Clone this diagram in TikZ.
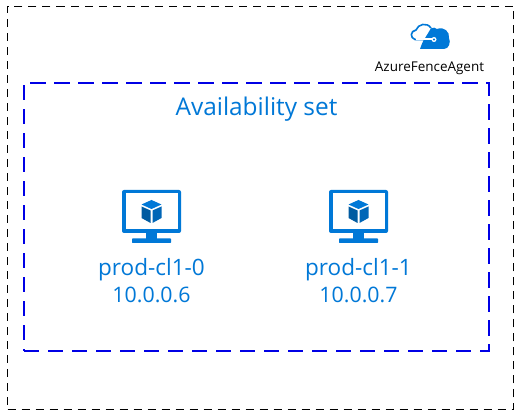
\documentclass[tikz,border=0pt]{standalone}
\usepackage{fontspec}
\setmainfont{Open Sans}
\definecolor{azure}{HTML}{0078D7}
\definecolor{azuredark}{HTML}{005BA1}
\tikzset{
  outerbox/.style={draw=black,line width=0.75pt,dash pattern=on 6pt off 4.5pt},
  setbox/.style={draw=blue!90!black,line width=1.6pt,dash pattern=on 11.5pt off 6.5pt},
  vmlabel/.style={text=azure,align=center,anchor=north,inner sep=0pt},
  settitle/.style={text=azure,font=\fontsize{18.3pt}{21pt}\selectfont,anchor=center},
  agentlabel/.style={text=black,font=\fontsize{10.1pt}{11pt}\selectfont,anchor=center},
  pics/vm/.style={code={
    \fill[azure,rounded corners=1.5pt] (0,0) rectangle (59,43);
    \fill[white] (3.5,3.5) rectangle (55.5,39);
    \fill[azure] (24,43) -- (35,43) -- (35,49) -- (24,49) -- cycle;
    \fill[azure,rounded corners=0.5pt] (10,48.5) rectangle (49,53);
    \fill[azure] (29.5,10) -- (39.5,14.5) -- (29.5,19) -- (19.5,14.5) -- cycle;
    \fill[azuredark] (19.5,16.5) -- (28.5,20.5) -- (28.5,33) -- (19.5,28) -- cycle;
    \fill[azure!85!black] (39.5,16.5) -- (30.5,20.5) -- (30.5,33) -- (39.5,28) -- cycle;
  }}
}
\newcommand{\vmtext}[2]{{\fontsize{16.9pt}{21pt}\selectfont #1}\\[3.75pt]{\fontsize{16pt}{21pt}\selectfont #2}}
\begin{document}
\begin{tikzpicture}[x=0.75pt,y=-0.75pt]
\useasboundingbox (0,0) rectangle (522,420);
\fill[white] (0,0) rectangle (522,420);
\node[outerbox,minimum width=379.5pt,minimum height=302.25pt,inner sep=0pt,anchor=north west] (outer) at (7,6) {};
\node[setbox,minimum width=348.4pt,minimum height=201.4pt,inner sep=0pt,anchor=north west] (avset) at (23,81.7) {};
\node[settitle] (title) at (256.5,109.5) {Availability set};
\node[agentlabel] (agent) at (429.5,68.5) {AzureFenceAgent};
% cloud icon
\fill[azure] (420,49) .. controls (422,43) and (424,40) .. (425,36) .. controls (427,28) and (434,26) .. (437,29)
  .. controls (444,26) and (450,32) .. (449,38) .. controls (451,42) and (449,49) .. (444,49) -- cycle;
\draw[azure,line width=1.2pt,fill=white] (424,39.5) -- (415,39.5) .. controls (410,38) and (410,31) .. (416,30)
  .. controls (418,24) and (427,22) .. (431,28);
\fill[white] (416,38.5) rectangle (432,40.5);
\fill[white] (434,39.5) circle (2.5);
\fill[azure] (434,39.5) circle (1.2);
\pic at (122,190) {vm};
\pic at (329,190) {vm};
\node[vmlabel] (vma) at (151.5,258) {\vmtext{prod-cl1-0}{10.0.0.6}};
\node[vmlabel] (vmb) at (358.5,258) {\vmtext{prod-cl1-1}{10.0.0.7}};
\end{tikzpicture}
\end{document}
